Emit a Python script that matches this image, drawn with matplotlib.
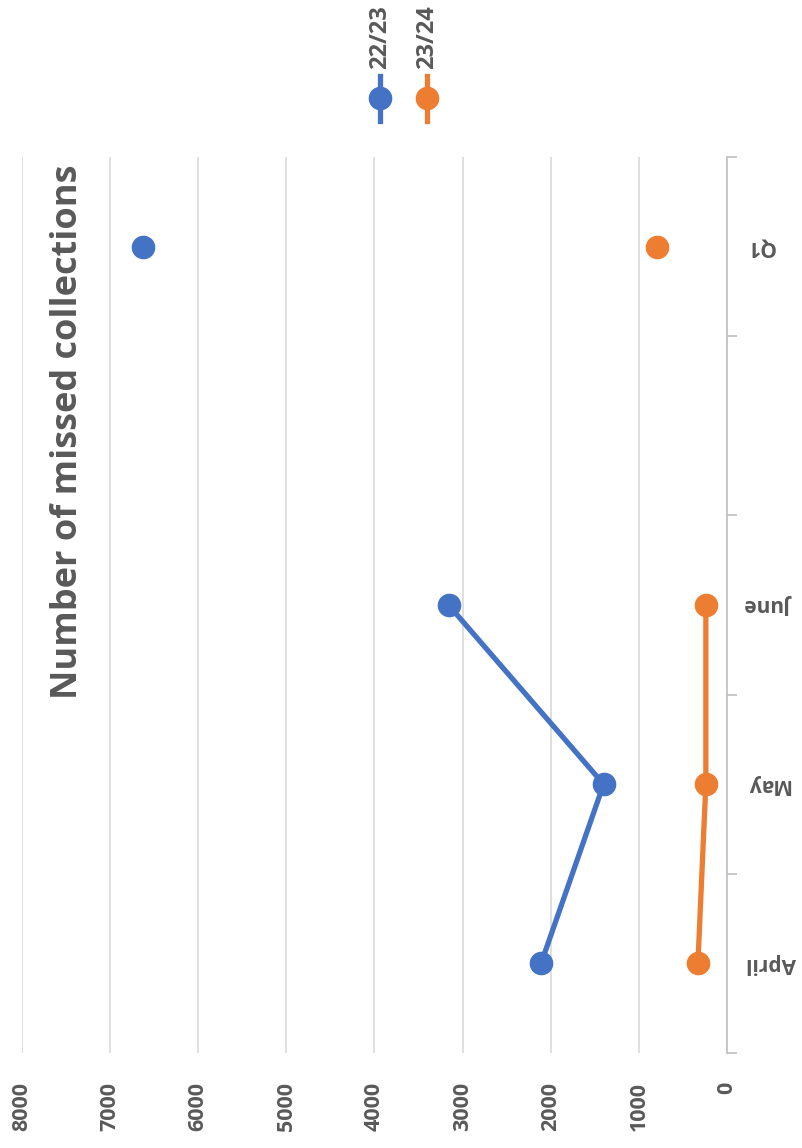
import numpy as np
import matplotlib
matplotlib.use("Agg")
import matplotlib.pyplot as plt
from matplotlib.lines import Line2D

categories = ["April", "May", "June", "", "Q1"]
series_names = ["22/23", "23/24"]
values_2223 = [2110, 1400, 3160, np.nan, 6630]
values_2324 = [330, 240, 240, np.nan, 790]
value_ticks = [0, 1000, 2000, 3000, 4000, 5000, 6000, 7000, 8000]

colors = ["#4472C4", "#ED7D31"]
txt = "#595959"
grid = "#D9D9D9"
W, H = 803, 1148
FONT = "Open Sans"

fig = plt.figure(figsize=(W / 100, H / 100), dpi=100)
fig.patch.set_facecolor("white")

left, right, top, bottom = 22, 727, 157, 1053
ax = fig.add_axes([left / W, 1 - bottom / H, (right - left) / W, (bottom - top) / H])
ax.set_xlim(8000, 0)
ax.set_ylim(-0.5, len(categories) - 0.5)
for s in ["top", "bottom", "left"]:
    ax.spines[s].set_visible(False)
ax.spines["right"].set_color("#BFBFBF")
ax.spines["right"].set_linewidth(1.2)

ax.set_xticks(value_ticks)
ax.grid(axis="x", color=grid, linewidth=1.2)
ax.set_axisbelow(True)
ax.tick_params(axis="x", length=0, pad=21)
ax.set_xticklabels([str(v) for v in value_ticks], rotation=90,
                   fontsize=15.5, fontweight="bold", color=txt, family=FONT,
                   va="top", ha="center")

# category axis on right
ax.yaxis.tick_right()
ax.set_yticks(np.arange(-0.5, len(categories), 1.0))
ax.set_yticklabels([])
ax.tick_params(axis="y", which="major", length=7, color="#BFBFBF", width=1.2, direction="out")
ax.set_yticks(np.arange(len(categories)), minor=True)
ax.tick_params(axis="y", which="minor", length=0, pad=14)
ax.set_yticklabels(categories, minor=True, rotation=180, fontsize=15,
                   fontweight="bold", color=txt, family=FONT, va="center", ha="left")

ypos = np.arange(len(categories))
for vals, c in zip([values_2223, values_2324], colors):
    ax.plot(vals, ypos, color=c, linewidth=3.8, marker="o", markersize=16,
            solid_capstyle="round", zorder=3, clip_on=False)

fig.text(68 / W, 1 - 432 / H, "Number of missed collections", rotation=90,
         fontsize=26, fontweight="bold", color=txt, family=FONT,
         ha="center", va="center")

# legend
for name, c, x in zip(series_names, colors, [380, 427]):
    fig.add_artist(Line2D([x / W, x / W], [1 - 76 / H, 1 - 121 / H], color=c,
                          linewidth=3.8, marker=None, transform=fig.transFigure))
    fig.add_artist(Line2D([x / W], [1 - 98 / H], color=c, marker="o", markersize=16,
                          linestyle="none", transform=fig.transFigure))
    fig.text(x / W, 1 - 69 / H, name, rotation=90, fontsize=17, fontweight="bold",
             color=txt, family=FONT, ha="center", va="bottom")

fig.savefig("out.png", dpi=100, facecolor="white")
